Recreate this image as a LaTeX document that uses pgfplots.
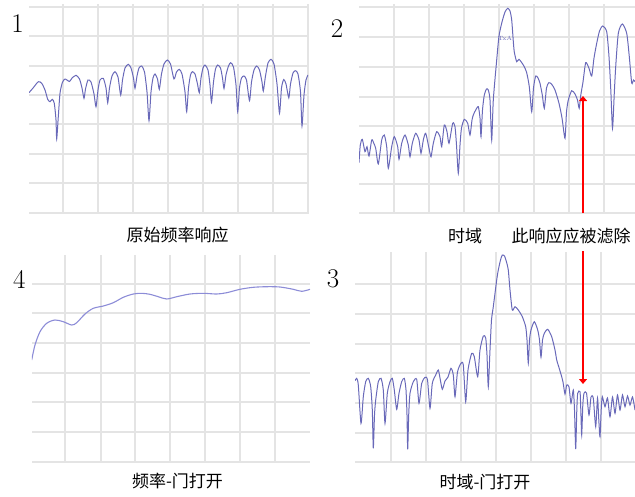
\documentclass[border=0pt]{standalone}
\usepackage{fontspec}
\usepackage{pgfplots}
\pgfplotsset{compat=1.18}
\usetikzlibrary{arrows.meta}
\newfontfamily\cjk{Noto Sans CJK SC}
\definecolor{curve}{RGB}{105,105,185}
\definecolor{curvelight}{RGB}{140,140,215}
\definecolor{gridc}{RGB}{228,228,228}
\pgfplotsset{panel/.style={scale only axis, y dir=reverse, anchor=north west,
  axis line style={draw=none}, tick style={draw=none},
  xticklabels={}, yticklabels={}, grid=major,
  major grid style={gridc, line width=1.3pt}}}
\begin{document}
\begin{tikzpicture}
\path[use as bounding box] (0,0) rectangle (635pt,-496pt);
% Panel 1
\begin{axis}[panel, at={(29pt,-4pt)}, width=279pt, height=210pt,
  xmin=29, xmax=308, ymin=4, ymax=214,
  xtick={63,98,133,168,203,238,273,308}, ytick={7,36,66,95,124,154,183,213}]
\addplot[curve, line width=1pt, smooth, tension=0.4] coordinates {
(29,92.7) (33.3,87.7) (38.3,81.7) (41.7,83.3) (45,90) (47.7,99.3) (50,101.7) (52.3,99.3) (54.3,103.3) (56,120) (56.7,139) (58.3,116.7) (60,93.3) (62.3,82.7) (65,79) (69.5,81.5) (72,78) (76,75.3) (79.5,79) (82,88) (84,98.3) (85.5,89) (88,80) (91,82) (94,94) (96,106.7) (98,90) (100,80) (103.3,78.3) (106,88) (107.7,102.7) (109.5,88) (112,76) (115,71.7) (118,77) (120.7,95) (122.5,80) (125,68) (128.3,64.3) (131,68) (133.5,78) (135,88.3) (137,76) (139,68) (141.7,66) (144.5,72) (147,92) (149,120.7) (151,92) (153,78) (155,74) (157.5,79) (159.3,89.3) (161.5,74) (164,64) (167.3,60) (170.5,64) (174,79) (176.5,72) (179.3,69.3) (182,74) (185,92) (186.7,111.7) (188.5,88) (190.5,75) (192.3,71.7) (195,74) (197.5,84) (199.3,92.7) (201,78) (203,68) (205,65) (208,70) (210,85) (211.5,102.5) (213.5,82) (215.5,69) (217.7,65) (220.5,68) (222.5,78) (224,88.5) (226,75) (228.5,66) (230.7,62.7) (233.5,67) (236,85) (237.7,111.7) (239.5,88) (241.5,78) (244,76) (246.5,80) (249.5,100.7) (251.5,82) (254,70) (256.7,66) (259.5,70) (262,82) (263.3,91) (265.5,76) (268,63) (271,59.3) (274,64) (277,84) (279.5,113.3) (281.5,88) (283.7,79.5) (286,84) (288.8,97.8) (290.5,84) (293,73) (295.5,70.7) (298,74) (300.5,92) (302,126) (304,95) (306,80) (308,75)
};
\end{axis}
% Panel 2
\begin{axis}[panel, at={(359pt,-4pt)}, width=276pt, height=210pt,
  xmin=359, xmax=635, ymin=4, ymax=214,
  xtick={394,429,464,499,534,569,604}, ytick={7,37,67,97,126,155,184,213}]
\addplot[curve, line width=1pt, smooth, tension=0.4] coordinates {
(359,162.7) (360.3,145) (362.3,139.3) (365,151.7) (367,146.7) (369,156) (371.7,140) (373.7,143) (375.7,148.3) (378.3,164) (381.7,140) (384.3,135) (386.7,146.7) (388.3,168.3) (391.7,146.7) (394.3,136.7) (397.7,146.7) (399,159.3) (401.7,143.3) (405,135) (408.3,145) (410,156.7) (412.3,143.3) (415.7,133.3) (419,140) (421,153.3) (423.3,140) (425.7,133.3) (429,148.3) (431,156.7) (433.3,143.3) (436.7,131.7) (440,136.7) (441.7,146.7) (444.3,125) (447,131.7) (449,143.3) (452.7,123.3) (455,126.7) (456.5,145) (458.3,173.3) (460,145) (461.5,128) (464.3,119.3) (467.7,123.3) (470,135) (472,120) (473.3,115) (475.7,110) (478.3,106.7) (480,118) (481,136.7) (482.5,110) (484.3,95) (486.5,89) (488.3,90) (490,100) (491.7,140) (493.3,100) (496.7,60) (499,36) (502,22) (505,12) (507.7,8.3) (510,11) (511.7,20) (513.2,40) (514.3,52) (516.7,61.7) (519,59.3) (523.3,65) (526.5,72) (529.3,86.7) (531.7,111.7) (533.5,88) (535.7,76) (538,78) (540,83.3) (542.3,95) (544.3,108.3) (546.5,88) (548.8,82.7) (551.5,84) (555,90) (559,103.3) (562,118) (565,138.3) (566.5,112) (568.3,100) (571.7,90.7) (575,94) (577.5,100) (579.2,108.3) (580.8,95) (583,82) (585.7,62.7) (589,68.3) (591.7,76) (594,58) (596.7,43.3) (599.5,31) (602.7,26) (606.7,31.7) (609,56.7) (610.8,90) (612.5,128.3) (614.2,95) (615.7,66.7) (618.3,33.3) (622.3,24) (626.7,33.3) (629.3,56.7) (631.7,83) (633.5,80) (635,81.7)
};
\node[font=\fontsize{6}{6}\selectfont, text=curve, inner sep=0pt] at (axis cs:505,38) {TxA};
\end{axis}
% Panel 4
\begin{axis}[panel, at={(32pt,-255pt)}, width=278pt, height=208pt,
  xmin=32, xmax=310, ymin=255, ymax=463,
  xtick={65,101,135,170,205,240,275}, ytick={284,313,343,373,402,432,462}]
\addplot[curvelight, line width=1.1pt, smooth, tension=0.5] coordinates {
(31.7,360) (35,345) (40,331.7) (46.7,323.3) (55,320) (63.3,321.7) (71.7,325) (76.7,322.7) (85,314) (93.3,308.3) (103.3,306) (113.3,302.7) (123.3,297.3) (133.3,294) (141.7,293.3) (150,294.3) (158.3,296.7) (166.7,299) (176.7,296.7) (190,294) (203.3,293.3) (216.7,294) (226.7,292.7) (240,289.3) (253.3,287.3) (266.7,286.7) (280,287) (293.3,289.3) (301.7,291.3) (310,289.3)
};
\end{axis}
% Panel 3
\begin{axis}[panel, at={(355pt,-252pt)}, width=280pt, height=211pt,
  xmin=355, xmax=635, ymin=252, ymax=463,
  xtick={391,426,461,496,531,566,601}, ytick={284,314,344,373,403,433,462}]
\addplot[curve, line width=1pt, smooth, tension=0.4] coordinates {
(355,380.7) (356.7,378.3) (358.3,385) (361,423.3) (363.3,396.7) (365.7,381.7) (368.3,378.3) (370.7,386.7) (372.3,410) (373.3,448.3) (374.5,415) (375.7,400) (378.3,381.7) (381,378.3) (383.3,390) (385,423.3) (387.3,393.3) (390,381.7) (392.3,378.3) (394.3,390) (396.7,409.3) (399,393.3) (401.7,381.7) (404.3,378.3) (406,390) (407,415) (407.7,449.3) (408.7,415) (410,393.3) (413.3,381.7) (416.7,379.3) (419,403.3) (421.7,383.3) (425,377.3) (427.5,380) (430,408.3) (432.3,383.3) (435.7,375) (438.3,370) (440,378) (442.3,389.3) (445,381) (448,377) (451,368.3) (453.3,375) (455,396.7) (457.5,372) (461,363.3) (463.3,365) (465.7,401.7) (468,370) (471.7,353.3) (474.3,356.7) (477.7,376.7) (480,350) (483.3,336) (485.7,338) (487,355) (488.3,386.7) (490,350) (491.5,320) (493.3,306.7) (496.7,280) (498.3,270) (500.5,260) (502.3,255) (504.5,256) (506.5,262) (508.3,270) (510,290) (512.3,310) (515,306.7) (518.3,310) (522.3,316.7) (525.7,326.7) (527,340) (528.3,363.3) (529.5,340) (531,330) (534.3,321.7) (537.7,330) (539.5,340) (541,357.3) (542.5,340) (544.3,333.3) (547.7,329.3) (551.7,336.7) (555,350) (556.7,360) (558.5,366) (561.7,376.7) (563,382) (565,394) (566.7,385) (569,387) (571,403.3) (573.3,390) (574.5,410) (575.7,449) (576.8,410) (577.7,393.3) (580,391.7) (580.8,410) (581.7,435) (582.8,405) (584,393.3) (586.5,393) (589,415) (591,397) (593.3,398.3) (595.7,426.7) (597.5,398) (598.8,420) (600,436.7) (601.2,410) (602.3,396.7) (605,406.7) (607.5,398) (610,416.7) (612.5,397) (615,413.3) (617.5,395) (620,410) (622.5,395) (625,406.7) (627.5,396) (630,405) (632.5,397) (635,410)
};
\end{axis}
% red arrows
\draw[red, line width=2.2pt, -{Triangle[width=8pt,length=5pt]}] (583pt,-213pt) -- (583pt,-96pt);
\draw[red, line width=2.2pt, -{Triangle[width=8pt,length=5pt]}] (583pt,-251pt) -- (583pt,-384pt);
% panel numbers
\node[font=\fontsize{27}{27}\selectfont] at (17.5pt,-23.3pt) {1};
\node[font=\fontsize{27}{27}\selectfont] at (337pt,-28.3pt) {2};
\node[font=\fontsize{27}{27}\selectfont] at (333pt,-278.3pt) {3};
\node[font=\fontsize{27}{27}\selectfont] at (19.3pt,-279.7pt) {4};
% captions
\node[font=\cjk\fontsize{17}{17}\selectfont] at (177.5pt,-235pt) {原始频率响应};
\node[font=\cjk\fontsize{17}{17}\selectfont] at (465pt,-236pt) {时域};
\node[font=\cjk\fontsize{17}{17}\selectfont] at (571pt,-236pt) {此响应应被滤除};
\node[font=\cjk\fontsize{17}{17}\selectfont] at (177.5pt,-481.5pt) {频率-门打开};
\node[font=\cjk\fontsize{17}{17}\selectfont] at (485pt,-482pt) {时域-门打开};
\end{tikzpicture}
\end{document}
